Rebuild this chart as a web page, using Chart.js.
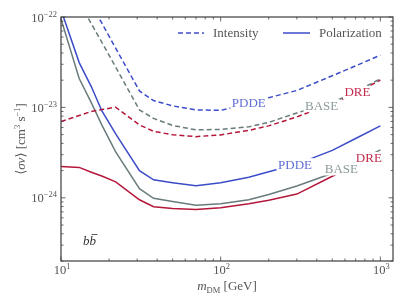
<!DOCTYPE html>
<html><head><meta charset="utf-8">
<script src="https://cdn.jsdelivr.net/npm/chart.js@4"></script>
<style>html,body{margin:0;padding:0;background:#fff}canvas{display:block}</style>
</head><body>
<canvas id="c" width="407" height="305"></canvas>
<script>
// ---- data ----
const masses = [10,13,15.5,18,22,31,38,50,70,100,150,200,300,500,700,1000]; // GeV
const pddeIntensity = [5.57e-22,2.42e-22,1.38e-22,8.59e-23,4.52e-23,1.52e-23,1.19e-23,1.04e-23,9.38e-24,9.27e-24,1.11e-23,1.28e-23,1.54e-23,2.24e-23,2.88e-23,3.78e-23];
const baseIntensity = [3.34e-22,1.47e-22,8.39e-23,5.27e-23,2.79e-23,9.38e-24,7.55e-24,6.32e-24,5.64e-24,5.71e-24,6.09e-24,6.83e-24,8.69e-24,1.13e-23,1.49e-23,2.07e-23];
const dreIntensity = [6.97e-24,8.13e-24,9.03e-24,9.46e-24,1.005e-23,6.41e-24,5.43e-24,4.99e-24,4.75e-24,4.96e-24,5.57e-24,6.25e-24,7.85e-24,1.11e-23,1.43e-23,2.01e-23];
const pddePolarization = [1.2e-22,3.13e-23,1.69e-23,9.2e-24,5.1e-24,2.0e-24,1.58e-24,1.47e-24,1.36e-24,1.47e-24,1.69e-24,1.94e-24,2.36e-24,3.35e-24,4.53e-24,6.25e-24];
const basePolarization = [9.5e-23,2.09e-23,1.12e-23,6.41e-24,3.22e-24,1.26e-24,9.87e-25,9.09e-25,8.26e-25,8.59e-25,9.51e-25,1.09e-24,1.35e-24,1.87e-24,2.47e-24,3.39e-24];
const drePolarization = [2.22e-24,2.17e-24,1.92e-24,1.74e-24,1.50e-24,9.51e-25,7.96e-25,7.62e-25,7.43e-25,7.76e-25,8.59e-25,9.38e-25,1.10e-24,1.73e-24,2.32e-24,3.14e-24];
const xTickValues = [10,100,1000];
const xTickExponents = ['1','2','3'];
const yTickValues = [1e-22,1e-23,1e-24];
const yTickExponents = ['\u221222','\u221223','\u221224'];
const legendLabels = ['Intensity','Polarization'];
const channelLabel = 'b b\u0304';

// ---- styles ----
const BLUE='#3b4cc8', RED='#b5173b', GRAY='#6a7b7b';
const BLUE_T='#5f6fd6', RED_T='#c42a4c', GRAY_T='#8c9a9a';
const SERIF='"Liberation Serif","DejaVu Serif",serif';
const DASH=[5,3];

function pts(arr){ return masses.map((m,i)=>({x:m,y:arr[i]})); }
function ds(arr,color,dashed){
  return {data:pts(arr),borderColor:color,borderWidth:1.5,borderDash:dashed?DASH:[],
    pointRadius:0,tension:0,fill:false,clip:0};
}
function interpLog(arr,m){
  const lm=Math.log10(m);
  for(let i=0;i<masses.length-1;i++){
    const a=Math.log10(masses[i]),b=Math.log10(masses[i+1]);
    if(lm>=a&&lm<=b){const t=(lm-a)/(b-a);
      return Math.pow(10,Math.log10(arr[i])+t*(Math.log10(arr[i+1])-Math.log10(arr[i])));}
  }
  return arr[arr.length-1];
}
const inlineLabels = [
  {text:'PDDE',arr:pddeIntensity,m:150,color:BLUE_T},
  {text:'BASE',arr:baseIntensity,m:429,color:GRAY_T},
  {text:'DRE',arr:dreIntensity,m:718,color:RED_T},
  {text:'PDDE',arr:pddePolarization,m:292,color:BLUE_T},
  {text:'BASE',arr:basePolarization,m:570,color:GRAY_T},
  {text:'DRE',arr:drePolarization,m:847,color:RED_T},
];

function drawSegs(ctx,segs,x,y,align){
  // segs: {t,font,dy}
  let w=0; segs.forEach(s=>{ctx.font=s.font; s.w=ctx.measureText(s.t).width; w+=s.w;});
  let cx = align==='right'? x-w : align==='center'? x-w/2 : x;
  ctx.textAlign='left'; ctx.textBaseline='alphabetic';
  segs.forEach(s=>{ctx.font=s.font; ctx.fillText(s.t,cx,y+(s.dy||0)); cx+=s.w;});
  return w;
}

const decor = {
  id:'decor',
  afterDatasetsDraw(chart){
    const ctx=chart.ctx, a=chart.chartArea, xs=chart.scales.x, ys=chart.scales.y;
    ctx.save();
    // inline curve labels
    ctx.font='13px '+SERIF;
    inlineLabels.forEach(L=>{
      const px=xs.getPixelForValue(L.m), py=ys.getPixelForValue(interpLog(L.arr,L.m));
      const w=ctx.measureText(L.text).width;
      ctx.fillStyle='#fff'; ctx.fillRect(px-w/2-1.5,py-6.5,w+3,13);
      ctx.fillStyle=L.color; ctx.textAlign='center'; ctx.textBaseline='middle';
      ctx.fillText(L.text,px,py+0.5);
    });
    // frame
    ctx.strokeStyle='#3c3c3c'; ctx.lineWidth=1.2;
    ctx.strokeRect(a.left,a.top,a.right-a.left,a.bottom-a.top);
    // inward ticks
    ctx.lineWidth=0.8; ctx.strokeStyle='#444';
    ctx.beginPath();
    for(let e=1;e<=3;e++){ for(let k=1;k<=9;k++){
      const v=k*Math.pow(10,e); if(v<xs.min||v>xs.max) continue;
      const L=k===1?4.5:2.5, p=xs.getPixelForValue(v);
      ctx.moveTo(p,a.bottom); ctx.lineTo(p,a.bottom-L);
      ctx.moveTo(p,a.top); ctx.lineTo(p,a.top+L);
    }}
    for(let e=-25;e<=-22;e++){ for(let k=1;k<=9;k++){
      const v=k*Math.pow(10,e); if(v<ys.min*0.999||v>ys.max*1.001) continue;
      const L=k===1?4.5:2.5, p=ys.getPixelForValue(v);
      ctx.moveTo(a.left,p); ctx.lineTo(a.left+L,p);
      ctx.moveTo(a.right,p); ctx.lineTo(a.right-L,p);
    }}
    ctx.stroke();
    // tick labels
    ctx.fillStyle='#555';
    const big='12.5px '+SERIF, small='8.5px '+SERIF;
    yTickValues.forEach((v,i)=>{
      const p=ys.getPixelForValue(v);
      drawSegs(ctx,[{t:'10',font:big},{t:yTickExponents[i],font:small,dy:-5}],a.left-4,p+4.5,'right');
    });
    xTickValues.forEach((v,i)=>{
      const p=xs.getPixelForValue(v);
      drawSegs(ctx,[{t:'10',font:big},{t:xTickExponents[i],font:small,dy:-5}],p+1,a.bottom+13,'center');
    });
    // axis titles
    const cx=(a.left+a.right)/2;
    drawSegs(ctx,[{t:'m',font:'italic 13px '+SERIF},{t:'DM',font:'8.5px '+SERIF,dy:2.5},{t:' [GeV]',font:'13px '+SERIF}],cx,a.bottom+29,'center');
    ctx.save();
    ctx.translate(25,(a.top+a.bottom)/2);
    ctx.rotate(-Math.PI/2);
    drawSegs(ctx,[{t:'\u27e8',font:'13px "DejaVu Serif",serif'},{t:'\u03c3v',font:'italic 13px '+SERIF},{t:'\u27e9',font:'13px "DejaVu Serif",serif'},
      {t:' [cm',font:'13px '+SERIF},{t:'3',font:'8.5px '+SERIF,dy:-5},{t:' s',font:'13px '+SERIF},{t:'\u22121',font:'8.5px '+SERIF,dy:-5},{t:']',font:'13px '+SERIF}],0,0,'center');
    ctx.restore();
    // legend
    const ly=33;
    ctx.lineWidth=1.5; ctx.strokeStyle=BLUE;
    ctx.setLineDash(DASH); ctx.beginPath(); ctx.moveTo(178,ly); ctx.lineTo(204,ly); ctx.stroke();
    ctx.setLineDash([]); ctx.beginPath(); ctx.moveTo(283,ly); ctx.lineTo(310,ly); ctx.stroke();
    ctx.fillStyle='#555'; ctx.font='13px '+SERIF; ctx.textAlign='left'; ctx.textBaseline='middle';
    ctx.fillText(legendLabels[0],213,ly+0.5);
    ctx.fillText(legendLabels[1],319,ly+0.5);
    // channel label
    ctx.fillStyle='#333'; ctx.font='italic 13px '+SERIF; ctx.textBaseline='alphabetic';
    ctx.fillText('b',83,a.bottom-16);
    const wb=ctx.measureText('b').width;
    ctx.fillText('b',83+wb,a.bottom-16);
    ctx.lineWidth=0.8; ctx.strokeStyle='#333'; ctx.beginPath();
    ctx.moveTo(83+wb+2,a.bottom-26.5); ctx.lineTo(83+wb*2+1.5,a.bottom-26.5); ctx.stroke();
    ctx.restore();
  }
};

new Chart(document.getElementById('c'),{
  type:'line',
  data:{datasets:[
    ds(pddeIntensity,BLUE,true), ds(baseIntensity,GRAY,true), ds(dreIntensity,RED,true),
    ds(pddePolarization,BLUE,false), ds(basePolarization,GRAY,false), ds(drePolarization,RED,false)
  ]},
  options:{
    responsive:false, animation:false, devicePixelRatio:1,
    layout:{padding:{top:17,right:14,left:0,bottom:0}},
    plugins:{legend:{display:false},tooltip:{enabled:false},title:{display:false}},
    scales:{
      x:{type:'logarithmic',min:10,max:1200,grid:{display:false},border:{display:false},ticks:{display:false},afterFit(s){s.height=44;}},
      y:{type:'logarithmic',min:2e-25,max:1e-22,grid:{display:false},border:{display:false},ticks:{display:false},afterFit(s){s.width=61;}}
    }
  },
  plugins:[decor]
});
</script>
</body></html>
